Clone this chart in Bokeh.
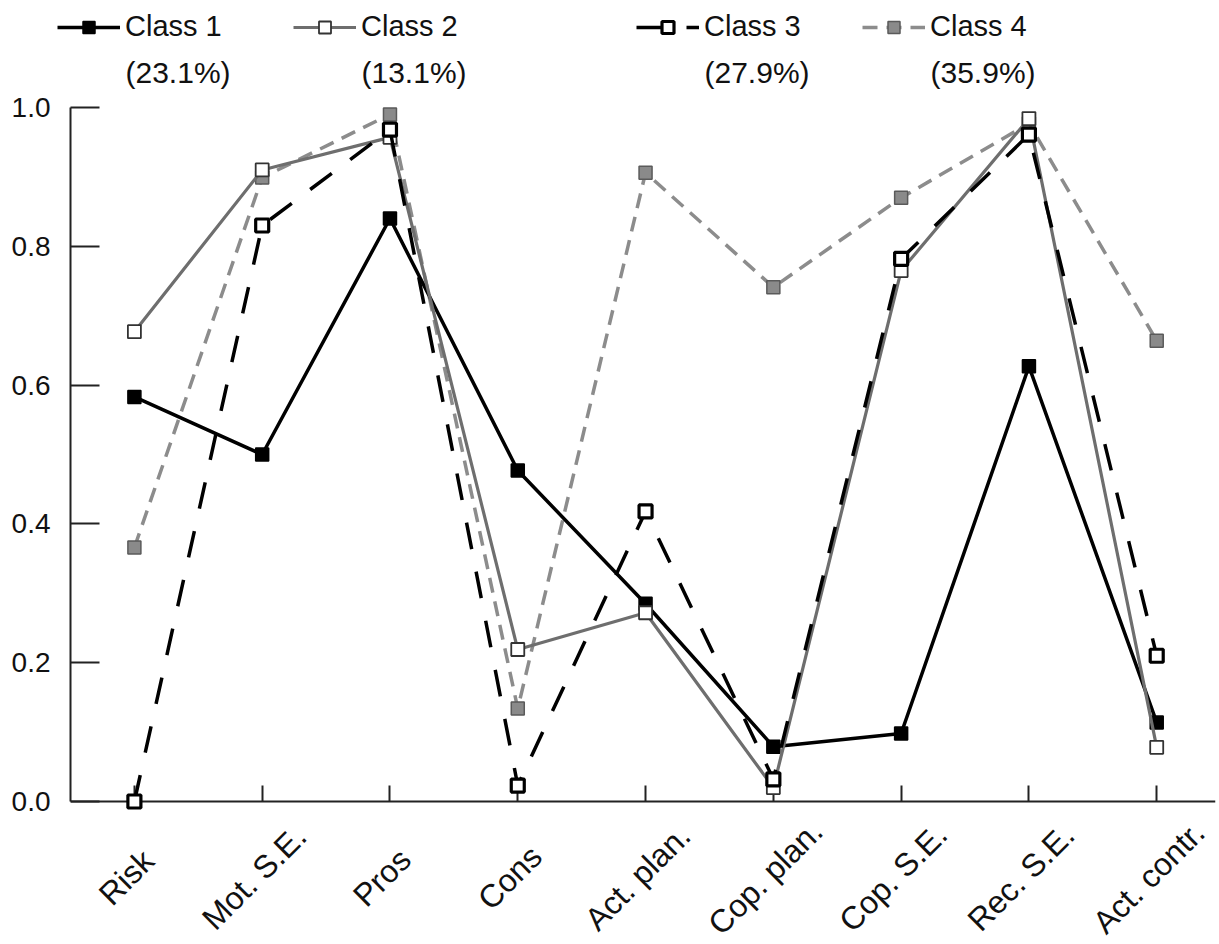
import math
from bokeh.plotting import figure
from bokeh.models import (Range1d, FixedTicker, PrintfTickFormatter, Legend, LegendItem, Label)
from bokeh.core.properties import value
from bokeh.embed import file_html
from bokeh.resources import INLINE

categories = ["Risk", "Mot. S.E.", "Pros", "Cons", "Act. plan.", "Cop. plan.", "Cop. S.E.", "Rec. S.E.", "Act. contr."]
class1 = [0.583, 0.500, 0.840, 0.477, 0.285, 0.079, 0.098, 0.627, 0.114]
class2 = [0.677, 0.910, 0.957, 0.219, 0.272, 0.020, 0.765, 0.984, 0.078]
class3 = [0.000, 0.830, 0.968, 0.023, 0.418, 0.032, 0.782, 0.961, 0.210]
class4 = [0.366, 0.899, 0.990, 0.134, 0.906, 0.741, 0.870, 0.977, 0.664]
class_names = ["Class 1", "Class 2", "Class 3", "Class 4"]
class_shares = ["(23.1%)", "(13.1%)", "(27.9%)", "(35.9%)"]
y_ticks = [0.0, 0.2, 0.4, 0.6, 0.8, 1.0]

FONT = "Liberation Sans"
xs = list(range(len(categories)))

styles = {
    "Class 1": dict(data=class1, lc="#000000", lw=3.5, dash="solid", fill="#000000", mline="#000000", mlw=1.5),
    "Class 2": dict(data=class2, lc="#6e6e6e", lw=3.2, dash="solid", fill="#ffffff", mline="#333333", mlw=1.8),
    "Class 3": dict(data=class3, lc="#000000", lw=3.5, dash="27 23", fill="#ffffff", mline="#000000", mlw=3.2),
    "Class 4": dict(data=class4, lc="#8c8c8c", lw=3.5, dash="15 9", fill="#8a8a8a", mline="#5a5a5a", mlw=1.5),
}

W = 1217
# layout (pixels): plot frame spans 849-2 px; value 1.0 sits 15 px below frame top,
# 1 unit of value = 694 px; frame continues 138 px below the zero line for the category names
PX_PER_UNIT = 694.0
TOP_PAD_PX = 15
BELOW_ZERO_PX = 138
LABEL_DROP_PX = 76

# ---- main chart ----
p = figure(width=W, height=849, output_backend="svg", toolbar_location=None,
           x_range=Range1d(-0.5, 8.46),
           y_range=Range1d(-BELOW_ZERO_PX / PX_PER_UNIT, 1 + TOP_PAD_PX / PX_PER_UNIT),
           min_border_left=70, min_border_right=2, min_border_top=0, min_border_bottom=2)
p.outline_line_color = None
p.xgrid.visible = False
p.ygrid.visible = False

p.yaxis.ticker = FixedTicker(ticks=y_ticks)
p.yaxis.formatter = PrintfTickFormatter(format="%.1f")
p.yaxis.bounds = (0, 1)
p.yaxis.major_tick_in = 29
p.yaxis.major_tick_out = 0
p.yaxis.minor_tick_line_color = None
p.yaxis.major_label_standoff = 20
p.yaxis.major_label_text_font = FONT
p.yaxis.major_label_text_font_size = "28px"
p.yaxis.major_label_text_color = "#111111"

p.xaxis.ticker = FixedTicker(ticks=xs)
p.xaxis.fixed_location = 0
p.xaxis.major_label_text_color = None      # category names drawn as rotated text below
p.xaxis.major_label_text_font_size = "1px"
p.xaxis.major_label_standoff = 0
p.xaxis.major_tick_in = 16
p.xaxis.major_tick_out = 0
p.xaxis.minor_tick_line_color = None
p.xaxis.level = "underlay"

for ax in (p.xaxis, p.yaxis):
    ax.axis_line_width = 2
    ax.major_tick_line_width = 2
    ax.axis_line_color = "#222222"
    ax.major_tick_line_color = "#222222"

for name in ["Class 4", "Class 1", "Class 2", "Class 3"]:
    s = styles[name]
    p.line(xs, s["data"], line_color=s["lc"], line_width=s["lw"], line_dash=s["dash"])
    p.scatter(xs, s["data"], marker="square", size=13, fill_color=s["fill"],
              line_color=s["mline"], line_width=s["mlw"])

label_y = -LABEL_DROP_PX / PX_PER_UNIT
p.text(x=xs, y=[label_y] * len(xs), text=categories, angle=math.pi / 4,
       x_offset=-8, text_align="center", text_baseline="middle",
       text_font=value(FONT), text_font_size="32px", text_color="#111111")

# ---- legend strip above ----
leg = figure(width=W, height=92, output_backend="svg", toolbar_location=None,
             x_range=Range1d(0, 1), y_range=Range1d(0, 1),
             min_border_left=0, min_border_right=0, min_border_top=0, min_border_bottom=0)
leg.axis.visible = False
leg.xgrid.visible = False
leg.ygrid.visible = False
leg.outline_line_color = None

legend_x = [57, 293, 636, 862]
for i, name in enumerate(class_names):
    s = styles[name]
    # off-range placeholders: only their legend glyphs are visible
    lr = leg.line([-5, -4], [-5, -4], line_color=s["lc"], line_width=s["lw"], line_dash=s["dash"])
    sr = leg.scatter([-5], [-5], marker="square", size=13, fill_color=s["fill"],
                     line_color=s["mline"], line_width=s["mlw"])
    lg = Legend(items=[LegendItem(label=name, renderers=[lr, sr])],
                location=(legend_x[i], 49), orientation="horizontal",
                glyph_width=63, glyph_height=30, label_height=30, label_standoff=5,
                padding=0, margin=0, spacing=0,
                border_line_color=None, background_fill_alpha=0,
                label_text_font=FONT, label_text_font_size="29px", label_text_color="#111111")
    leg.add_layout(lg, "center")
    leg.add_layout(Label(x=legend_x[i] + 68, y=20, x_units="screen", y_units="screen",
                         text=class_shares[i], text_font=FONT, text_font_size="30px",
                         text_color="#111111", text_baseline="middle", text_align="left"))

open("out.html", "w").write(file_html([leg, p], INLINE))
